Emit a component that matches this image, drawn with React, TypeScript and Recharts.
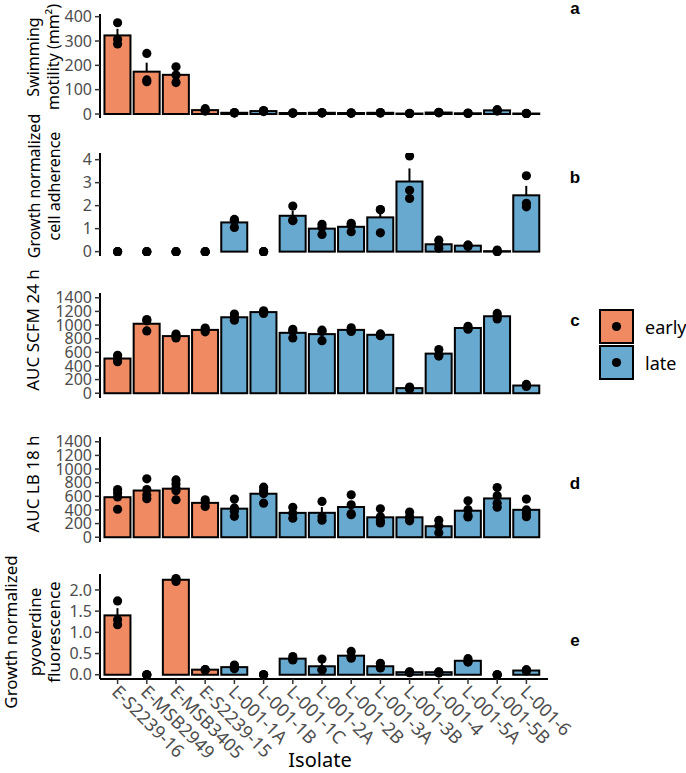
import { ComposedChart, Bar, Line, XAxis, YAxis, ErrorBar } from "recharts";

const isolates = [
  "E-S2239-16", "E-MSB2949", "E-MSB3405", "E-S2239-15", "L-001-1A", "L-001-1B", "L-001-1C",
  "L-001-2A", "L-001-2B", "L-001-3A", "L-001-3B", "L-001-4", "L-001-5A", "L-001-5B", "L-001-6",
];
const stages = ["early", "early", "early", "early", "late", "late", "late", "late", "late", "late", "late", "late", "late", "late", "late"];

// a: swimming motility (mm²)
const swimMean = [323, 174, 161, 16, 5, 12, 4, 5, 4, 5, 2, 6, 3, 15, 2];
const swimSe = [27, 37, 19, 4, 1, 2, 1, 1, 1, 1, 1, 1, 1, 3, 1];
const swimPts = [
  [375, 307, 288], [249, 133, 140], [194, 160, 129], [22, 12, 14], [6, 4, 5], [14, 10, 12], [4, 3, 5],
  [5, 4, 6], [4, 3, 5], [5, 4, 6], [2, 1, 3], [7, 5, 6], [3, 2, 4], [18, 12, 15], [2, 1, 3],
];

// b: growth normalized cell adherence
const adhMean = [0, 0, 0, 0, 1.27, 0, 1.56, 1.0, 1.08, 1.49, 3.05, 0.32, 0.26, 0.02, 2.45];
const adhSe = [0, 0, 0, 0, 0.12, 0, 0.21, 0.13, 0.1, 0.33, 0.57, 0.1, 0.03, 0.01, 0.41];
const adhPts = [
  [0, 0, 0], [0, 0, 0], [0, 0, 0], [0, 0, 0], [1.4, 1.05, 1.35], [0, 0, 0], [1.98, 1.35, 1.35],
  [1.19, 0.75, 1.06], [1.23, 0.87, 1.15], [1.83, 0.82, 1.82], [4.16, 2.67, 2.31], [0.5, 0.3, 0.15],
  [0.28, 0.22, 0.28], [0.07, 0.0, 0.02], [3.3, 2.1, 1.95],
];

// c: AUC SCFM 24 h
const scfmMean = [509, 1019, 838, 929, 1114, 1190, 886, 867, 929, 857, 75, 581, 957, 1129, 113];
const scfmSe = [27, 52, 17, 16, 27, 12, 39, 47, 17, 10, 8, 30, 12, 23, 9];
const scfmPts = [
  [557, 462, 508], [1081, 914, 1062], [867, 838, 810], [955, 900, 932], [1162, 1071, 1110],
  [1210, 1190, 1170], [938, 810, 910], [905, 771, 925], [960, 920, 907], [870, 843, 858],
  [90, 62, 73], [640, 560, 545], [981, 950, 940], [1170, 1129, 1090], [129, 100, 110],
];

// d: AUC LB 18 h
const lbMean = [587, 685, 712, 504, 419, 638, 357, 358, 443, 292, 292, 161, 389, 569, 402];
const lbSe = [63, 64, 50, 28, 54, 52, 47, 84, 67, 46, 29, 53, 52, 63, 55];
const lbPts = [
  [700, 650, 590, 410], [856, 700, 620, 565], [840, 780, 720, 680, 550], [550, 510, 452],
  [560, 430, 380, 306], [734, 680, 640, 500], [440, 350, 280], [525, 300, 250],
  [622, 476, 345, 330], [418, 300, 240, 210], [370, 300, 258, 240], [248, 170, 64],
  [535, 404, 297, 320], [729, 608, 500, 440], [560, 400, 350, 300],
];

// e: growth normalized pyoverdine fluorescence
const pvdMean = [1.4, 0, 2.24, 0.12, 0.18, 0, 0.38, 0.2, 0.45, 0.2, 0.06, 0.06, 0.33, 0, 0.1];
const pvdSe = [0.17, 0, 0.02, 0.01, 0.03, 0, 0.03, 0.09, 0.05, 0.03, 0.01, 0.01, 0.03, 0, 0.01];
const pvdPts = [
  [1.74, 1.3, 1.18], [0, 0, 0], [2.27, 2.2, 2.25], [0.12, 0.11, 0.12], [0.23, 0.14, 0.17], [0, 0, 0],
  [0.43, 0.35, 0.36], [0.37, 0.12, 0.11], [0.55, 0.39, 0.41], [0.27, 0.16, 0.17], [0.07, 0.05, 0.06],
  [0.07, 0.04, 0.06], [0.38, 0.3, 0.31], [0, 0, 0], [0.12, 0.09, 0.1],
];

const ticksA = [0, 100, 200, 300, 400];
const ticksB = [0, 1, 2, 3, 4];
const ticksAuc = [0, 200, 400, 600, 800, 1000, 1200, 1400];
const ticksE = [0, 0.5, 1, 1.5, 2];

const EARLY = "#EF8A62";
const LATE = "#67A9CF";
const FONT = "'Noto Sans', 'Open Sans', sans-serif";
const MAX_PTS = 5;

const panels = [
  { id: "a", mean: swimMean, se: swimSe, pts: swimPts, ticks: ticksA, domain: [-16.4, 411], top: 14, bottom: 118, title: ["Swimming", "motility (mm²)"], titleX: [33, 53], titleY: 57, titleSize: 16, letterY: 8 },
  { id: "b", mean: adhMean, se: adhSe, pts: adhPts, ticks: ticksB, domain: [-0.19, 4.29], top: 153, bottom: 256, title: ["Growth normalized", "cell adherence"], titleX: [34, 54], titleY: 186, titleSize: 16, letterY: 177 },
  { id: "c", mean: scfmMean, se: scfmSe, pts: scfmPts, ticks: ticksAuc, domain: [-70, 1470], top: 293, bottom: 398, title: ["AUC SCFM 24 h"], titleX: [32], titleY: 330, titleSize: 17, letterY: 320 },
  { id: "d", mean: lbMean, se: lbSe, pts: lbPts, ticks: ticksAuc, domain: [-70, 1470], top: 437, bottom: 542, title: ["AUC LB 18 h"], titleX: [32], titleY: 484, titleSize: 17, letterY: 483 },
  { id: "e", mean: pvdMean, se: pvdSe, pts: pvdPts, ticks: ticksE, domain: [-0.1, 2.376], top: 574, bottom: 679, title: ["Growth normalized", "pyoverdine", "fluorescence"], titleX: [10, 34, 53], titleY: 632, titleSize: 17, letterY: 640 },
];

function makeRows(mean: number[], se: number[], pts: number[][]) {
  return isolates.map((name, i) => {
    const row: Record<string, unknown> = { name, stage: stages[i], mean: mean[i], err: [0, se[i]] };
    pts[i].forEach((v, k) => {
      row[`p${k}`] = v;
    });
    return row;
  });
}

function BarShape(props: any) {
  const { x, y, width, height, index } = props;
  const h = Math.max(0, height || 0);
  return (
    <rect
      x={x}
      y={y}
      width={width}
      height={h}
      fill={stages[index] === "early" ? EARLY : LATE}
      stroke="#000"
      strokeWidth={2}
    />
  );
}

const renderDot = (props: any) => {
  const { cx, cy, value, index, dataKey } = props;
  if (value == null || cx == null || cy == null || Number.isNaN(cy)) {
    return <g key={`${dataKey}-${index}`} />;
  }
  return <circle key={`${dataKey}-${index}`} cx={cx} cy={cy} r={4.6} fill="#000" />;
};

function XTick(props: any) {
  const { x, y, payload } = props;
  const tx = x - 2;
  const ty = y + 2;
  return (
    <text
      x={tx}
      y={ty}
      transform={`rotate(45 ${tx} ${ty})`}
      textAnchor="start"
      dominantBaseline="central"
      fontSize={18}
      fontFamily={FONT}
      fill="#4D4D4D"
    >
      {payload.value}
    </text>
  );
}

function Panel({ p, last }: { p: (typeof panels)[number]; last: boolean }) {
  const rows = makeRows(p.mean, p.se, p.pts);
  const mTop = 12;
  const mBottom = last ? 2 : 10;
  const axisH = last ? 92 : 0;
  const height = mTop + (p.bottom - p.top) + axisH + mBottom;
  const fmt = p.id === "e" ? (v: number) => v.toFixed(1) : (v: number) => String(v);
  return (
    <div style={{ position: "absolute", left: 0, top: p.top - mTop }}>
      <ComposedChart
        width={650}
        height={height}
        data={rows}
        margin={{ top: mTop, right: 102, bottom: mBottom, left: 0 }}
        barCategoryGap="5%"
      >
        <XAxis
          dataKey="name"
          type="category"
          padding={{ left: 3, right: 7 }}
          axisLine={{ stroke: "#000", strokeWidth: 2 }}
          tickLine={last ? { stroke: "#333", strokeWidth: 1.5 } : false}
          tick={last ? <XTick /> : false}
          tickSize={5}
          height={axisH}
          interval={0}
        />
        <YAxis
          width={100}
          domain={p.domain}
          allowDataOverflow
          ticks={p.ticks}
          interval={0}
          tickSize={5}
          tickMargin={3}
          tickFormatter={fmt}
          axisLine={{ stroke: "#000", strokeWidth: 2 }}
          tickLine={{ stroke: "#333", strokeWidth: 1.5 }}
          tick={{ fill: "#4D4D4D", fontSize: 16, fontFamily: FONT }}
        />
        <Bar dataKey="mean" shape={<BarShape />} isAnimationActive={false}>
          <ErrorBar dataKey="err" width={0} stroke="#000" strokeWidth={2} direction="y" />
        </Bar>
        {Array.from({ length: MAX_PTS }, (_, k) => (
          <Line
            key={k}
            dataKey={`p${k}`}
            stroke="none"
            dot={renderDot}
            activeDot={false}
            isAnimationActive={false}
          />
        ))}
      </ComposedChart>
    </div>
  );
}

export default function App() {
  return (
    <div
      style={{
        position: "absolute",
        left: 0,
        top: 0,
        width: 686,
        height: 773,
        overflow: "hidden",
        background: "#fff",
        fontFamily: FONT,
      }}
    >
      {panels.map((p, i) => (
        <Panel key={p.id} p={p} last={i === panels.length - 1} />
      ))}
      <svg width={686} height={773} style={{ position: "absolute", left: 0, top: 0, pointerEvents: "none" }}>
        {panels.map((p) => (
          <g key={p.id}>
            {p.title.map((t, j) => {
              const x = p.titleX[j];
              return (
                <text
                  key={t}
                  x={x}
                  y={p.titleY}
                  transform={`rotate(-90 ${x} ${p.titleY})`}
                  textAnchor="middle"
                  dominantBaseline="central"
                  fontSize={p.titleSize}
                  fontFamily={FONT}
                  fill="#000"
                >
                  {t}
                </text>
              );
            })}
            <text
              x={575}
              y={p.letterY}
              textAnchor="middle"
              dominantBaseline="central"
              fontSize={17}
              fontWeight="bold"
              fontFamily="'Liberation Sans', Arial, sans-serif"
            >
              {p.id}
            </text>
          </g>
        ))}
        {[
          { label: "early", fill: EARLY, y: 310 },
          { label: "late", fill: LATE, y: 346 },
        ].map((k) => (
          <g key={k.label}>
            <rect x={600} y={k.y} width={33} height={33} fill={k.fill} stroke="#000" strokeWidth={2} />
            <circle cx={616.5} cy={k.y + 16.5} r={4.6} fill="#000" />
            <text x={645} y={k.y + 17} dominantBaseline="central" fontSize={18} fontFamily={FONT} fill="#000">
              {k.label}
            </text>
          </g>
        ))}
        <text x={320} y={767} textAnchor="middle" fontSize={20} fontFamily={FONT} fill="#000">
          Isolate
        </text>
      </svg>
    </div>
  );
}
